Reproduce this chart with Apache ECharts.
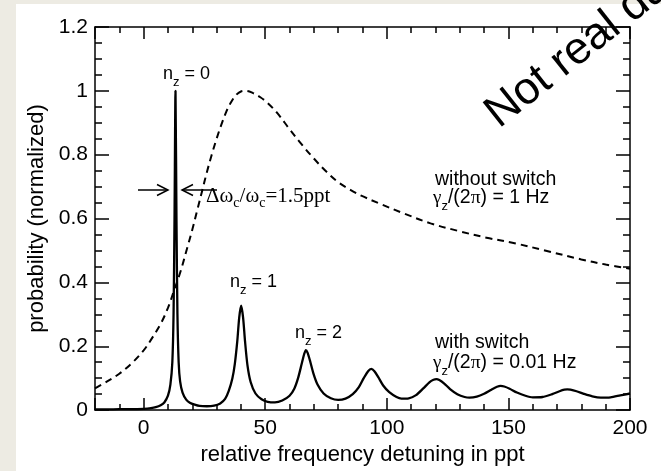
<!DOCTYPE html>
<html><head><meta charset="utf-8">
<script src="https://cdn.jsdelivr.net/npm/echarts@6/dist/echarts.min.js"></script>
<style>
html,body{margin:0;padding:0;background:#edebe3;overflow:hidden;}
#bg{position:absolute;left:16px;top:4px;width:645px;height:467px;background:#fff;}
#c{position:absolute;left:0;top:0;width:661px;height:471px;}
</style></head><body>
<div id="bg"></div><div id="c"></div>
<script>
// ---- data ----
const solidX = [-20,-15,-10,-5,0,3,5,7,8.5,10,11,11.8,12.3,12.7,13.1,13.5,13.9,14.4,15,16,17.5,19,21,23,26,29,31.5,33.5,35,36.5,37.5,38.5,39.3,40.1,40.9,41.7,42.7,44,46,48.5,51,54,57,60,62,63.5,65,66,66.7,67.4,68.4,69.8,71.5,74,77,80,83,86,88.5,90.5,92.3,93.6,94.9,96.5,98.5,101,104,106,109,112,115,117.5,119.2,120.4,121.6,123.5,126,129,132,134,137,140,143,145.3,146.8,148.3,150.5,153.5,157,160,164,168,171,173,174.2,175.5,178,181,184.5,188,192,196,200];
const solidY = [0.002,0.002,0.003,0.003,0.004,0.006,0.009,0.015,0.024,0.045,0.08,0.15,0.3,0.6,1.0,0.6,0.3,0.15,0.09,0.055,0.033,0.023,0.017,0.013,0.012,0.014,0.021,0.035,0.06,0.1,0.145,0.215,0.29,0.327,0.29,0.215,0.14,0.088,0.052,0.034,0.026,0.024,0.03,0.045,0.068,0.1,0.145,0.175,0.188,0.18,0.155,0.115,0.08,0.052,0.037,0.032,0.036,0.05,0.072,0.1,0.122,0.129,0.122,0.103,0.077,0.056,0.041,0.036,0.037,0.047,0.068,0.087,0.095,0.097,0.094,0.084,0.066,0.05,0.041,0.039,0.042,0.051,0.064,0.073,0.076,0.074,0.067,0.055,0.045,0.04,0.041,0.05,0.059,0.064,0.065,0.064,0.059,0.051,0.043,0.039,0.04,0.046,0.052];
const dashX = [-20,-15,-10,-5,0,3,7,10,12.3,15,18,20,22,24,26,28,30,32,34,36,38,40,42,45,48,51,55,60,65,70,75,80,85,90,97,107,118,130,141,153,165,180,190,200];
const dashY = [0.068,0.09,0.114,0.146,0.187,0.22,0.27,0.32,0.37,0.43,0.51,0.565,0.625,0.685,0.745,0.80,0.85,0.895,0.935,0.965,0.987,0.998,1.0,0.993,0.98,0.962,0.93,0.88,0.832,0.788,0.748,0.714,0.69,0.67,0.647,0.616,0.585,0.56,0.54,0.522,0.5,0.472,0.456,0.443];
const xTickLabels = [0, 50, 100, 150, 200];
const yTickLabels = ['0','0.2','0.4','0.6','0.8','1','1.2'];
const xName = 'relative frequency detuning in ppt';
const yName = 'probability (normalized)';

const SANS = '"Liberation Sans", Arial, Helvetica, sans-serif';
const SERIF = '"Liberation Serif", "Times New Roman", serif';
const BLACK = '#000';

const chart = echarts.init(document.getElementById('c'), null, {renderer:'canvas'});
const zip = (xs, ys) => xs.map((x, i) => [x, ys[i]]);

const lineStyle = {color: BLACK, width: 1.5};
function xAx(pos, major, withLabel) {
  const a = {
    type: 'value', min: -20, max: 200, position: pos, gridIndex: 0,
    axisLine: {show: major, onZero: false, lineStyle},
    axisTick: {show: true, inside: true, length: major ? 12 : 6, lineStyle},
    axisLabel: {show: false},
    splitLine: {show: false}
  };
  if (!major) a.interval = 10;
  if (withLabel) {
    a.axisLabel = {show: true, color: BLACK, fontSize: 21, fontFamily: SANS, margin: 8,
      formatter: v => xTickLabels.indexOf(v) >= 0 ? String(v) : ''};
    a.name = xName; a.nameLocation = 'middle'; a.nameGap = 20;
    a.nameTextStyle = {color: BLACK, fontSize: 22, fontFamily: SANS};
  }
  return a;
}
function yAx(pos, withLabel) {
  const a = {
    type: 'value', min: 0, max: 1.2, interval: 0.2, position: pos, gridIndex: 0,
    axisLine: {show: true, onZero: false, lineStyle},
    axisTick: {show: true, inside: true, length: 14, lineStyle},
    minorTick: {show: true, splitNumber: 4, length: 7, lineStyle},
    axisLabel: {show: false},
    splitLine: {show: false}, minorSplitLine: {show: false}
  };
  if (withLabel) {
    a.axisLabel = {show: true, color: BLACK, fontSize: 21, fontFamily: SANS, margin: 7,
      formatter: (v) => yTickLabels[Math.round(v / 0.2)]};
    a.name = yName; a.nameLocation = 'middle'; a.nameGap = 42;
    a.nameTextStyle = {color: BLACK, fontSize: 22, fontFamily: SANS};
  }
  return a;
}

chart.setOption({
  animation: false,
  backgroundColor: 'transparent',
  grid: {left: 95, right: 31, top: 27, bottom: 54, containLabel: false},
  xAxis: [xAx('bottom', true, true), xAx('bottom', false, false), xAx('top', true, false), xAx('top', false, false)],
  yAxis: [yAx('left', true), yAx('right', false)],
  series: [
    {type: 'line', xAxisIndex: 0, yAxisIndex: 0, data: zip(dashX, dashY), showSymbol: false, smooth: 0.35,
     lineStyle: {color: BLACK, width: 2, type: [7, 5]}, z: 3},
    {type: 'line', xAxisIndex: 0, yAxisIndex: 0, data: zip(solidX, solidY), showSymbol: false, smooth: 0.25,
     lineStyle: {color: BLACK, width: 2.3}, z: 4}
  ]
});

// ---- annotations ----
const ctx = document.createElement('canvas').getContext('2d');
function runs(x, baseline, parts) {
  const els = []; let cx = x;
  for (const [t, size, fam, dy] of parts) {
    const font = size + 'px ' + fam;
    els.push({type: 'text', x: cx, y: baseline + dy - 0.31 * size, z: 10,
      style: {text: t, font: font, fill: BLACK, align: 'left', verticalAlign: 'middle'}});
    ctx.font = font; cx += ctx.measureText(t).width;
  }
  return els;
}
function nz(x, b, n) {
  return runs(x, b, [['n', 18, SANS, 0], ['z', 13, SANS, 6], [' = ' + n, 18, SANS, 0]]);
}
function gam(x, b, rest) {
  return runs(x, b, [['γ', 19, SERIF, 0], ['z', 13, SANS, 6], ['/(2', 19.5, SANS, 0], ['π', 19.5, SERIF, 0], [') = ' + rest, 19.5, SANS, 0]]);
}
const g = [];
g.push(...nz(163, 80, '0'));
g.push(...nz(230, 288, '1'));
g.push(...nz(295, 339, '2'));
g.push(...runs(435, 186, [['without switch', 19.5, SANS, 0]]));
g.push(...gam(433, 204, '1 Hz'));
g.push(...runs(435, 349, [['with switch', 19.5, SANS, 0]]));
g.push(...gam(433, 369, '0.01 Hz'));
g.push(...runs(206, 203, [['Δω', 21, SERIF, 0], ['c', 14, SERIF, 5], ['/ω', 21, SERIF, 0], ['c', 14, SERIF, 5], ['=1.5ppt', 21, SERIF, 0]]));
// arrows
const aS = {stroke: BLACK, lineWidth: 1.5, fill: null};
g.push({type: 'polyline', z: 10, shape: {points: [[138, 190], [168, 190]]}, style: aS});
g.push({type: 'polyline', z: 10, shape: {points: [[157, 184.5], [168, 190], [157, 195.5]]}, style: aS});
g.push({type: 'polyline', z: 10, shape: {points: [[217, 190], [182, 190]]}, style: aS});
g.push({type: 'polyline', z: 10, shape: {points: [[193, 184.5], [182, 190], [193, 195.5]]}, style: aS});
// watermark
g.push({type: 'text', x: 500, y: 130, rotation: 0.67, z: 20,
  style: {text: 'Not real data', x: 0, y: -0.31 * 45, font: '45px ' + SANS, fill: BLACK, align: 'left', verticalAlign: 'middle'}});
chart.setOption({graphic: g});
</script>
</body></html>
